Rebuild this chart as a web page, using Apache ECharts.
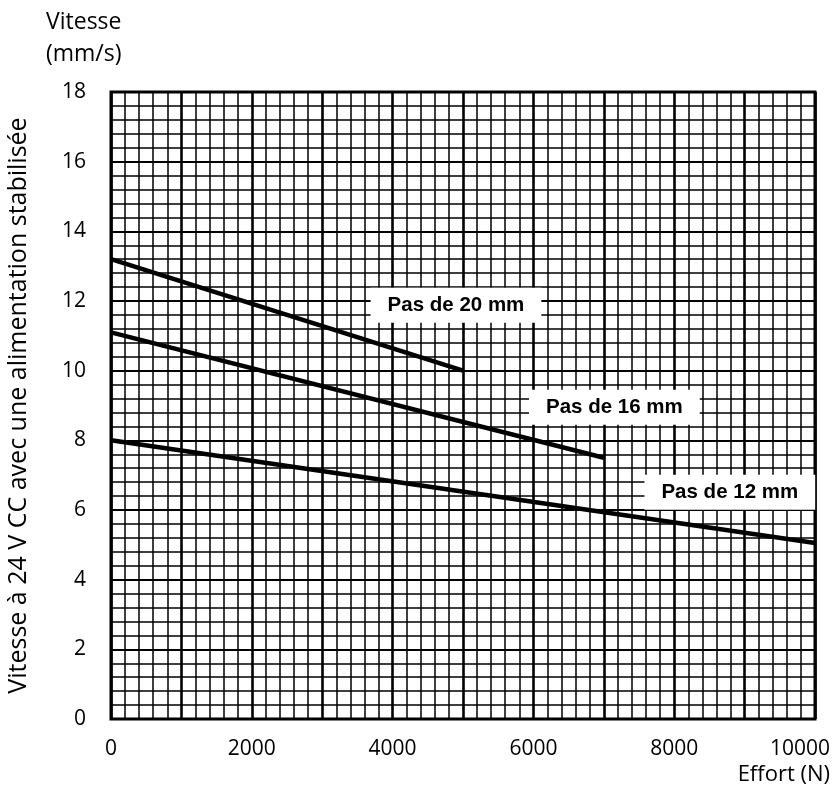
<!DOCTYPE html>
<html>
<head>
<meta charset="utf-8">
<script src="https://cdn.jsdelivr.net/npm/echarts@6/dist/echarts.min.js"></script>
<style>
html,body{margin:0;padding:0;background:#fff;}
#chart{width:836px;height:787px;}
</style>
</head>
<body>
<div id="chart"></div>
<script>
// Data
const force20 = [0, 5000];
const speed20 = [13.2, 10.0];
const force16 = [0, 7000];
const speed16 = [11.1, 7.5];
const force12 = [0, 10000];
const speed12 = [8.0, 5.05];
const seriesNames = ['Pas de 20 mm', 'Pas de 16 mm', 'Pas de 12 mm'];
const xTicks = [0, 2000, 4000, 6000, 8000, 10000];
const yTicks = [0, 2, 4, 6, 8, 10, 12, 14, 16, 18];

const FONT = '"Open Sans", "DejaVu Sans", sans-serif';
const LFONT = '"Liberation Sans", Arial, sans-serif';

function pairs(xs, ys) { return xs.map((x, i) => [x, ys[i]]); }

const labelStyle = {
  show: true,
  color: '#000',
  fontFamily: LFONT,
  fontWeight: 'bold',
  fontSize: 20.5,
  backgroundColor: '#fff',
  padding: [7, 17, 7, 17]
};

function curve(name, xs, ys, labelCoord) {
  return {
    name: name,
    type: 'line',
    data: pairs(xs, ys),
    symbol: 'none',
    lineStyle: { color: '#000', width: 4.5 },
    z: 5,
    markPoint: {
      symbol: 'rect',
      symbolSize: 0.01,
      silent: true,
      z: 10,
      label: Object.assign({ position: 'inside', formatter: name }, labelStyle),
      data: [{ coord: labelCoord }]
    }
  };
}

const chart = echarts.init(document.getElementById('chart'), null, { renderer: 'canvas' });
chart.setOption({
  backgroundColor: '#fff',
  animation: false,
  grid: {
    left: 111, right: 21, top: 92, bottom: 68,
    containLabel: false, outerBoundsMode: 'none',
    show: true, borderColor: '#000', borderWidth: 3, backgroundColor: 'transparent', z: 3
  },
  xAxis: {
    type: 'value', min: 0, max: 10000, interval: 1000,
    axisLine: { show: false },
    axisTick: { show: false },
    axisLabel: {
      margin: 20, color: '#000', fontFamily: FONT, fontSize: 21,
      formatter: v => (xTicks.indexOf(v) < 0 ? '' : (v === 10000 ? '{last|10000}' : String(v))),
      rich: { last: { fontFamily: FONT, fontSize: 21, color: '#000', padding: [0, 30, 0, 0] } }
    },
    splitLine: { show: true, lineStyle: { color: '#000', width: 2.6 } },
    minorTick: { show: false, splitNumber: 5 },
    minorSplitLine: { show: true, lineStyle: { color: '#000', width: 1.5 } }
  },
  yAxis: {
    type: 'value', min: 0, max: 18, interval: 2,
    name: 'Vitesse à 24 V CC avec une alimentation stabilisée',
    nameLocation: 'middle', nameRotate: 90, nameGap: 80,
    nameTextStyle: { color: '#000', fontFamily: FONT, fontSize: 25 },
    axisLine: { show: false },
    axisTick: { show: false },
    axisLabel: {
      margin: 25, color: '#000', fontFamily: FONT, fontSize: 21,
      formatter: v => (yTicks.indexOf(v) < 0 ? '' : String(v))
    },
    splitLine: { show: true, lineStyle: { color: '#000', width: 2.2 } },
    minorTick: { show: false, splitNumber: 5 },
    minorSplitLine: { show: true, lineStyle: { color: '#000', width: 1.5 } }
  },
  graphic: [
    { type: 'text', left: 46, top: 11, style: { text: 'Vitesse', fill: '#000', font: '23px ' + FONT } },
    { type: 'text', left: 46, top: 43, style: { text: '(mm/s)', fill: '#000', font: '23px ' + FONT } },
    { type: 'text', right: 6, top: 764, style: { text: 'Effort (N)', fill: '#000', font: '22px ' + FONT } }
  ],
  series: [
    curve(seriesNames[0], force20, speed20, [4900, 11.88]),
    curve(seriesNames[1], force16, speed16, [7150, 8.95]),
    curve(seriesNames[2], force12, speed12, [8790, 6.51])
  ]
});
</script>
</body>
</html>
